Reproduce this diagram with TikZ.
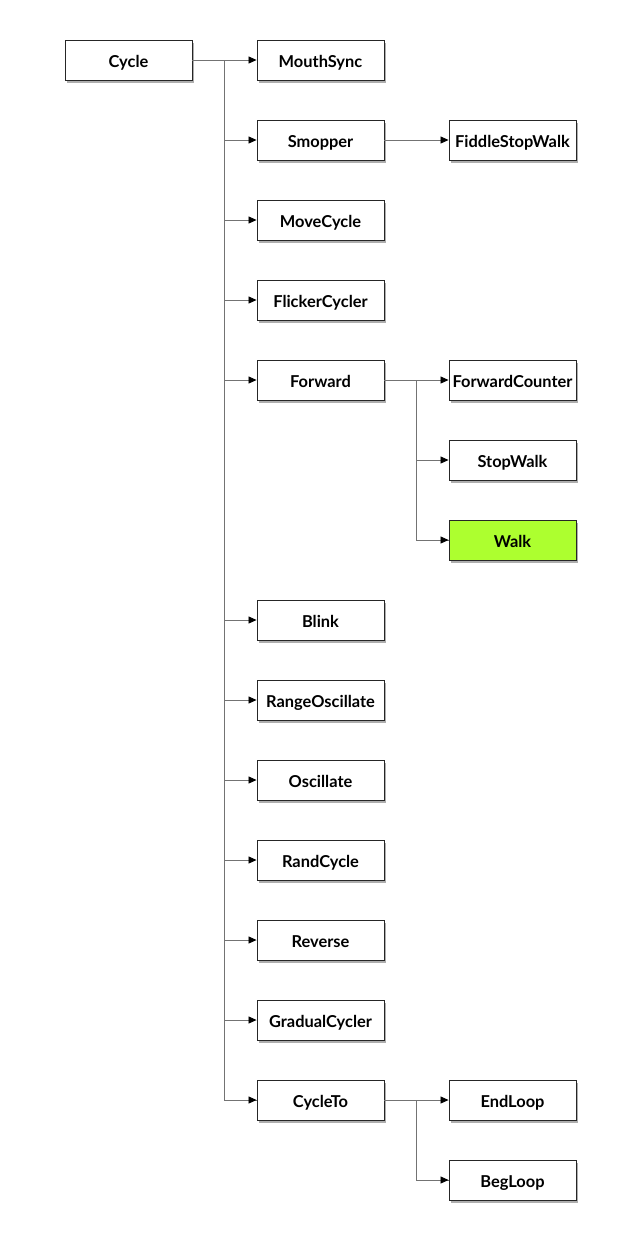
\documentclass[tikz,border=0pt]{standalone}
\usepackage{fontspec}
\setmainfont{Lato}
\usetikzlibrary{shadows,arrows.meta}
\begin{document}
\begin{tikzpicture}[x=1pt,y=-1pt,
  box/.style={draw=black!85,line width=0.9pt,fill=white,minimum width=127pt,minimum height=40pt,inner sep=0pt,
    text height=15.4pt,text depth=0pt,
    font=\fontsize{16.4}{19}\selectfont\bfseries,
    drop shadow={shadow xshift=1.5pt,shadow yshift=-2.5pt,opacity=0.45,fill=black!70}},
  hl/.style={box,fill=greenyellow},
  conn/.style={draw=black!55,line width=0.8pt},
  arr/.style={conn,-{Triangle[length=8pt,width=7pt,color=black]}}]
\definecolor{greenyellow}{HTML}{ADFF2F}
\useasboundingbox (0,0) rectangle (640,1240);
\node[box] (cycle) at (128.5,60) {Cycle};
\foreach \n/\t/\y in {ms/MouthSync/60,sm/Smopper/140,mc/MoveCycle/220,fc/FlickerCycler/300,fw/Forward/380,bl/Blink/620,ro/RangeOscillate/700,os/Oscillate/780,rc/RandCycle/860,rv/Reverse/940,gc/GradualCycler/1020,ct/CycleTo/1100}
  \node[box] (\n) at (320.5,\y) {\t};
\node[box] (fsw) at (512.5,140) {FiddleStopWalk};
\node[box] (fcn) at (512.5,380) {ForwardCounter};
\node[box] (sw) at (512.5,460) {StopWalk};
\node[hl] (wk) at (512.5,540) {Walk};
\node[box] (el) at (512.5,1100) {EndLoop};
\node[box] (bg) at (512.5,1180) {BegLoop};
\coordinate (t1) at (224,60);
\draw[conn] (cycle.east) -- (t1) |- (ct.west);
\foreach \n in {ms,sm,mc,fc,fw,bl,ro,os,rc,rv,gc,ct}
  \draw[arr] (t1 |- \n.west) -- (\n.west);
\draw[arr] (sm.east) -- (fsw.west);
\coordinate (t2) at (416,380);
\draw[conn] (fw.east) -- (t2) |- (wk.west);
\foreach \n in {fcn,sw,wk}
  \draw[arr] (t2 |- \n.west) -- (\n.west);
\coordinate (t3) at (416,1100);
\draw[conn] (ct.east) -- (t3) |- (bg.west);
\foreach \n in {el,bg}
  \draw[arr] (t3 |- \n.west) -- (\n.west);
\end{tikzpicture}
\end{document}
